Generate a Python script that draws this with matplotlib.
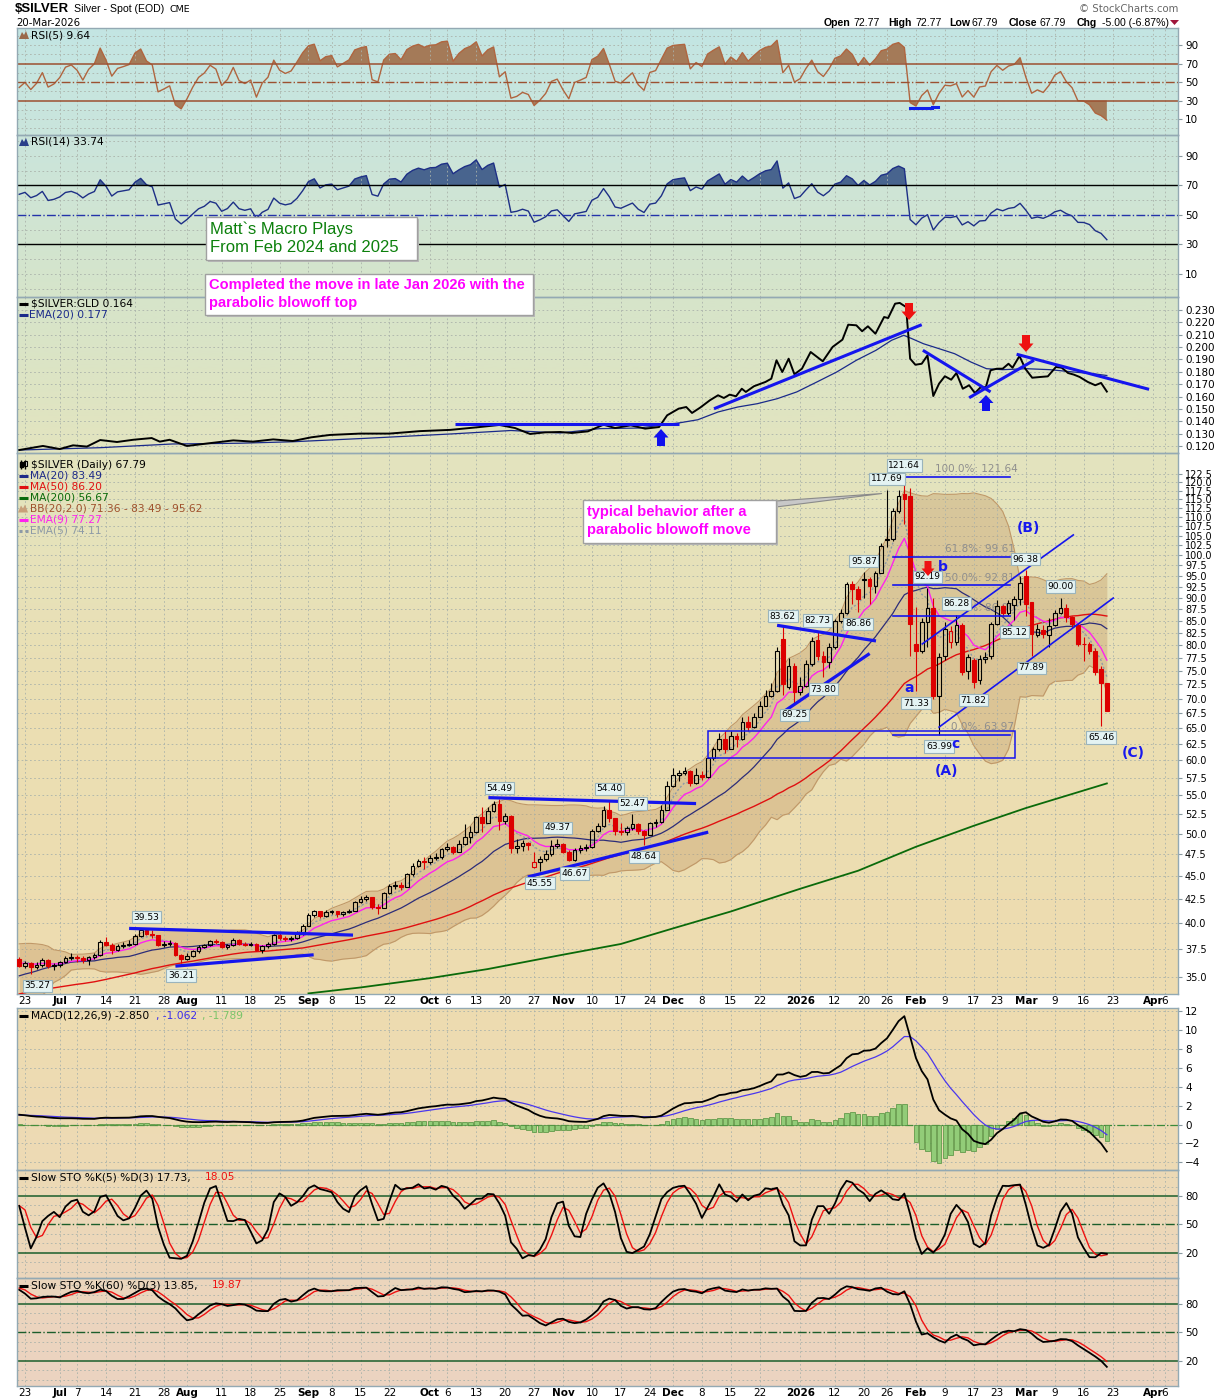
import numpy as np
import pandas as pd
import matplotlib
matplotlib.use("Agg")
import matplotlib.pyplot as plt
from matplotlib.colors import to_rgb
from matplotlib.patches import Polygon, Rectangle
from matplotlib.ticker import NullLocator

plt.rcParams['font.family'] = ['DejaVu Sans']

W, H = 1225, 1400
L, R = 17, 1178

# ---------------- data ----------------
holidays = ["2025-07-04", "2025-09-01", "2025-11-27", "2025-12-25",
            "2026-01-01", "2026-01-19", "2026-02-16", "2026-04-03"]
days = pd.bdate_range("2025-06-20", "2026-04-10")
days = days[~days.isin(pd.to_datetime(holidays))]

# closes before the visible window (Apr 8 - Jun 18 2025), only used to warm up the indicators
prior_closes = [29.7, 30.8, 30.7, 32.1,
                32.3, 32.3, 32.7, 32.4,
                32.5, 32.9, 33.5, 33.5, 33.1,
                33.0, 33.1, 32.6, 31.9, 32.0,
                32.3, 33.0, 32.6, 32.5, 32.7,
                32.6, 33.0, 32.5, 32.5, 32.3,
                32.3, 32.4, 33.4, 33.1, 33.4,
                33.1, 33.1, 33.3, 33.0,
                34.5, 34.4, 34.4, 35.8, 36.0,
                36.2, 36.6, 36.1, 36.3, 36.3,
                36.3, 37.0, 37.1]

# daily $SILVER, Jun 20 2025 .. Mar 20 2026
closes = [36.0,
          36.2, 35.9, 36.1, 36.5, 36.0,
          36.1, 36.3, 36.7, 36.8,
          36.7, 36.5, 36.8, 37.0, 38.2,
          37.9, 37.4, 37.8, 37.9, 38.0,
          38.8, 39.3, 39.0, 38.9, 37.9,
          38.0, 38.1, 37.0, 36.6, 36.9,
          37.3, 37.7, 37.9, 38.3, 38.2,
          37.7, 37.9, 38.4, 38.0, 37.9,
          38.0, 37.4, 37.8, 38.0, 38.9,
          38.6, 38.5, 38.6, 39.0, 39.7,
          40.8, 41.2, 40.7, 41.1,
          41.2, 40.9, 41.1, 41.3, 42.2,
          42.5, 42.7, 41.7, 41.6, 43.1,
          43.9, 44.0, 43.8, 45.2, 46.1,
          46.7, 46.6, 47.1, 47.2, 48.1,
          48.4, 47.8, 48.7, 49.6, 50.2,
          52.1, 51.4, 52.9, 53.9, 51.6,
          52.3, 48.3, 48.5, 48.9, 48.6,
          46.6, 47.0, 47.5, 48.5, 48.7,
          47.8, 46.8, 48.0, 48.2, 48.4,
          50.4, 51.0, 53.1, 52.0, 50.4,
          50.2, 50.7, 51.2, 50.3, 49.8,
          51.3, 51.5, 53.0, 56.3,
          57.8, 58.2, 58.5, 56.8, 57.9,
          57.6, 60.3, 61.7, 63.3, 61.8,
          63.7, 63.3, 66.0, 65.2, 66.8,
          68.8, 70.5, 71.3, 78.8,
          72.6, 76.0, 71.1, 72.3,
          76.3, 80.8, 77.9, 76.6, 79.5,
          85.0, 86.7, 93.1, 92.0, 89.7,
          94.2, 92.6, 95.8, 102.4,
          104.2, 111.7, 116.0, 115.0, 84.3,
          78.8, 84.6, 87.8, 70.5, 77.6,
          83.2, 82.8, 84.0, 74.7, 77.6,
          73.0, 77.2, 77.6, 84.3,
          88.2, 86.7, 88.9, 89.7, 93.4,
          88.6, 82.2, 83.2, 82.2, 83.9,
          86.7, 87.8, 85.7, 84.3, 80.2,
          80.1, 78.8, 74.7, 72.79, 67.79]

highs = [36.8,
         36.4, 36.3, 36.3, 36.7, 36.6,
         36.2, 36.4, 36.9, 37.2,
         37.0, 36.9, 36.9, 37.2, 38.4,
         38.7, 38.1, 38.0, 38.2, 38.4,
         39.0, 39.4, 39.53, 39.3, 38.9,
         38.3, 38.4, 38.2, 37.1, 37.2,
         37.4, 37.9, 38.0, 38.4, 38.5,
         38.3, 38.0, 38.6, 38.5, 38.2,
         38.2, 38.1, 37.9, 38.2, 39.0,
         39.1, 38.8, 38.8, 39.2, 39.9,
         41.0, 41.4, 41.3, 41.4,
         41.4, 41.3, 41.3, 41.5, 42.3,
         42.8, 42.9, 42.6, 42.0, 43.2,
         44.1, 44.5, 44.3, 45.3, 46.5,
         47.0, 47.2, 47.4, 47.6, 48.2,
         48.8, 48.5, 49.2, 51.2, 51.0,
         52.3, 53.5, 53.5, 54.2, 54.49,
         52.6, 52.4, 49.3, 49.2, 49.0,
         47.8, 47.3, 48.0, 49.2, 49.37,
         48.9, 48.0, 48.3, 48.6, 48.7,
         50.6, 51.3, 53.6, 54.40, 52.0,
         51.4, 51.0, 52.47, 51.3, 50.5,
         51.5, 51.9, 53.7, 57.0,
         58.9, 58.6, 59.0, 58.6, 58.9,
         58.4, 60.5, 62.0, 64.3, 64.5,
         64.6, 64.2, 66.8, 67.0, 67.6,
         69.5, 71.5, 72.7, 79.5,
         83.62, 77.5, 76.5, 73.8,
         77.0, 81.5, 82.73, 78.8, 80.3,
         85.4, 87.5, 93.6, 93.7, 92.6,
         95.87, 94.8, 96.2, 103.0,
         117.69, 112.5, 117.6, 121.64, 118.3,
         88.0, 85.6, 92.19, 90.0, 78.5,
         84.8, 83.8, 86.28, 84.5, 78.2,
         77.5, 78.0, 78.6, 84.8,
         89.5, 88.6, 89.4, 90.3, 95.0,
         96.38, 89.0, 84.3, 84.0, 85.6,
         87.2, 90.00, 88.6, 86.0, 84.5,
         81.5, 80.6, 79.3, 76.0, 72.77]

lows = [35.9,
        35.8, 35.27, 35.7, 35.9, 35.8,
        35.6, 35.9, 36.2, 36.5,
        36.3, 36.2, 36.1, 36.6, 36.9,
        37.8, 37.1, 37.3, 37.6, 37.8,
        37.9, 38.7, 38.9, 38.6, 37.8,
        37.7, 37.8, 36.9, 36.21, 36.5,
        36.8, 37.2, 37.6, 37.8, 38.0,
        37.6, 37.5, 37.8, 37.9, 37.8,
        37.8, 37.3, 37.2, 37.6, 37.9,
        38.4, 38.3, 38.3, 38.5, 38.9,
        39.7, 40.6, 40.5, 40.6,
        40.9, 40.6, 40.7, 41.0, 41.2,
        42.1, 42.3, 41.5, 40.9, 41.6,
        43.0, 43.6, 43.5, 43.8, 45.0,
        46.0, 45.8, 46.4, 46.8, 47.0,
        47.9, 47.5, 47.8, 48.6, 48.9,
        50.1, 50.2, 51.3, 52.8, 50.5,
        51.2, 47.6, 47.6, 47.9, 48.0,
        45.9, 45.55, 46.7, 47.3, 48.2,
        47.6, 46.7, 46.67, 47.6, 47.9,
        48.3, 50.2, 50.9, 51.5, 49.9,
        49.8, 49.9, 50.5, 50.0, 48.64,
        49.9, 50.9, 51.4, 53.3,
        56.2, 57.0, 57.8, 56.3, 56.6,
        57.2, 57.5, 60.0, 61.5, 61.2,
        61.9, 62.0, 63.2, 64.6, 65.0,
        66.8, 68.7, 70.2, 71.2,
        70.6, 71.6, 69.25, 70.6,
        72.0, 76.0, 77.1, 73.80, 75.5,
        79.2, 84.5, 86.3, 88.5, 86.86,
        89.9, 88.5, 91.0, 95.6,
        102.0, 103.5, 111.0, 108.0, 77.9,
        71.33, 78.4, 79.5, 70.0, 63.99,
        77.0, 79.3, 80.0, 74.2, 73.5,
        71.82, 72.5, 76.5, 77.2,
        84.0, 85.9, 86.2, 85.12, 88.4,
        86.0, 77.89, 81.6, 81.3, 79.5,
        83.8, 86.5, 84.8, 83.5, 79.8,
        76.8, 78.2, 74.3, 65.46, 67.79]

# days whose open differs from the previous close (position -> open)
open_gaps = {0: 36.6, 89: 46.0, 132: 81.2, 133: 72.0, 138: 81.0, 146: 94.0,
             150: 104.0, 153: 116.4, 154: 115.9, 155: 80.2, 160: 77.9, 161: 80.5,
             162: 80.6, 164: 74.9, 165: 77.1, 166: 73.4, 168: 77.8, 172: 88.4,
             174: 95.0, 175: 89.0, 176: 82.0, 177: 83.0, 178: 82.0, 179: 84.0,
             183: 84.0, 185: 80.2, 187: 75.4, 188: 72.77}

# $SILVER:GLD ratio and its EMA(20) (position, value)
ratio_x = [0, 4.1, 7.0, 9.3, 11.7, 14.0, 16.9, 19.7, 22.9, 24.3, 26.0, 29.0, 32.5, 37.0,
           40.4, 43.9, 47.3, 50.5, 53.7, 58.9, 64.0, 69.3, 74.5, 79.6, 83.0, 85.7, 88.3,
           90.9, 93.5, 95.5, 98.3, 101.0, 103.0, 105.7, 108.2, 110.6, 112.0, 114.0, 115.3,
           116.3, 117.7, 119.4, 120.8, 121.8, 122.8, 123.9, 124.9, 125.6, 127.0, 129.0,
           130.0, 130.9, 131.9, 133.0, 134.0, 135.3, 136.8, 138.9, 140.6, 142.3, 143.3,
           144.7, 145.7, 146.7, 148.0, 149.5, 150.2, 151.4, 152.2, 153.3, 154.0, 154.9,
           156.0, 157.0, 158.0, 159.0, 160.0, 161.1, 162.0, 163.1, 164.2, 165.2, 166.1,
           167.1, 167.9, 169.0, 170.0, 171.0, 171.7, 172.9, 173.9, 175.1, 176.5, 177.8,
           179.2, 180.2, 181.3, 182.3, 183.3, 184.7, 186.0, 187.0, 188.0]
ratio_v = [0.1167, 0.120, 0.1175, 0.1205, 0.1195, 0.1248, 0.1232, 0.125, 0.1264, 0.1235,
           0.125, 0.120, 0.122, 0.1245, 0.1235, 0.1253, 0.1240, 0.127, 0.1289, 0.130, 0.130,
           0.132, 0.133, 0.1353, 0.137, 0.1345, 0.1297, 0.131, 0.1313, 0.1305, 0.1318,
           0.1372, 0.1345, 0.1367, 0.1340, 0.1353, 0.1448, 0.1502, 0.1515, 0.1467, 0.151,
           0.157, 0.161, 0.1588, 0.1615, 0.1602, 0.1663, 0.1637, 0.1683, 0.1718, 0.1744,
           0.1893, 0.1798, 0.1906, 0.178, 0.1825, 0.196, 0.1885, 0.2001, 0.206, 0.2181,
           0.2176, 0.2128, 0.2168, 0.2108, 0.2243, 0.2235, 0.2351, 0.2357, 0.2324, 0.1906,
           0.1857, 0.1865, 0.1933, 0.1604, 0.1704, 0.1764, 0.1736, 0.179, 0.1663, 0.1691,
           0.1628, 0.1671, 0.1677, 0.1812, 0.1825, 0.1825, 0.1865, 0.1833, 0.1928, 0.1825,
           0.1752, 0.1758, 0.1763, 0.1839, 0.1833, 0.179, 0.1777, 0.1758, 0.1718, 0.1691,
           0.171, 0.164]
ratio_ema_x = [0, 14, 26.5, 38, 47.3, 60, 75, 85, 93.5, 100.3, 107.1, 114.0, 117.3, 120.8,
               124.2, 127.6, 131.0, 134.4, 137.9, 141.3, 144.7, 148.1, 150.8, 152.9, 154.3,
               156.3, 159.0, 161.7, 164.5, 167.2, 170.0, 174.1, 178.2, 182.3, 185.7, 188.0]
ratio_ema_v = [0.1167, 0.1186, 0.1216, 0.1222, 0.1234, 0.1262, 0.1298, 0.1325, 0.1305,
               0.134, 0.1345, 0.1386, 0.1412, 0.1475, 0.1515, 0.1542, 0.1582, 0.1637, 0.1718,
               0.1798, 0.1893, 0.1974, 0.2055, 0.2095, 0.2068, 0.2027, 0.1987, 0.1946, 0.1879,
               0.1825, 0.1817, 0.1825, 0.1817, 0.1798, 0.1784, 0.177]

# MA(200)
ma200_x = [50, 59, 71, 81, 94, 104, 113, 123, 135, 145, 155, 165, 174, 188]
ma200_v = [33.6, 34.1, 34.9, 35.7, 37.0, 38.0, 39.5, 41.2, 43.6, 45.6, 48.4, 51.0, 53.3, 56.67]

tick_dates = ["2025-06-23", "2025-07-01", "2025-07-07", "2025-07-14", "2025-07-21",
              "2025-07-28", "2025-08-01", "2025-08-11", "2025-08-18", "2025-08-25",
              "2025-09-02", "2025-09-08", "2025-09-15", "2025-09-22", "2025-10-01",
              "2025-10-06", "2025-10-13", "2025-10-20", "2025-10-27", "2025-11-03",
              "2025-11-10", "2025-11-17", "2025-11-24", "2025-12-01", "2025-12-08",
              "2025-12-15", "2025-12-22", "2026-01-02", "2026-01-12", "2026-01-20",
              "2026-01-26", "2026-02-02", "2026-02-09", "2026-02-17", "2026-02-23",
              "2026-03-02", "2026-03-09", "2026-03-16", "2026-03-23", "2026-04-01",
              "2026-04-06"]
tick_labels = ["23", "Jul", "7", "14", "21", "28", "Aug", "11", "18", "25", "Sep", "8",
               "15", "22", "Oct", "6", "13", "20", "27", "Nov", "10", "17", "24", "Dec",
               "8", "15", "22", "2026", "12", "20", "26", "Feb", "9", "17", "23", "Mar",
               "9", "16", "23", "Apr", "6"]

# labelled highs / lows
price_marks = [("2025-06-24", 35.27, "l"), ("2025-07-23", 39.53, "h"), ("2025-07-31", 36.21, "l"),
               ("2025-10-17", 54.49, "h"), ("2025-10-28", 45.55, "l"), ("2025-10-31", 49.37, "h"),
               ("2025-11-05", 46.67, "l"), ("2025-11-13", 54.40, "h"), ("2025-11-19", 52.47, "h"),
               ("2025-11-21", 48.64, "l"), ("2025-12-29", 83.62, "h"), ("2025-12-31", 69.25, "l"),
               ("2026-01-07", 82.73, "h"), ("2026-01-08", 73.80, "l"), ("2026-01-16", 86.86, "l"),
               ("2026-01-20", 95.87, "h"), ("2026-01-26", 117.69, "h"), ("2026-01-29", 121.64, "h"),
               ("2026-02-02", 71.33, "l"), ("2026-02-04", 92.19, "h"), ("2026-02-06", 63.99, "l"),
               ("2026-02-11", 86.28, "h"), ("2026-02-17", 71.82, "l"), ("2026-02-26", 85.12, "l"),
               ("2026-03-02", 96.38, "h"), ("2026-03-03", 77.89, "l"), ("2026-03-10", 90.00, "h"),
               ("2026-03-19", 65.46, "l")]

# analyst drawings (trading-day position, value)
price_trend = [(19.0, 39.5, 57.7, 38.85), (27.0, 35.96, 50.9, 36.99), (81.1, 54.7, 117.0, 53.9),
               (87.9, 44.9, 119.1, 50.2), (131.0, 84.0, 148.1, 80.8), (132.2, 67.8, 147.0, 78.3)]
price_channel = [(156.1, 80.2, 182.2, 105.2), (159.0, 65.2, 189.1, 89.9)]
fib_levels = [121.64, 99.61, 92.81, 86.00, 63.97]
fib_text = ["100.0%: 121.64", "61.8%: 99.61", "50.0%: 92.81", "38.2%: 86.00", "0.0%: 63.97"]
ratio_trend = [(75.3, 0.1380, 114.0, 0.1380), (120.1, 0.1501, 156.0, 0.2181),
               (156.2, 0.1974, 167.9, 0.1637), (164.2, 0.1590, 175.4, 0.1893),
               (172.4, 0.1942, 195.3, 0.1658)]

# ---------------- indicators ----------------
n0 = len(prior_closes)
cl = pd.Series(prior_closes + closes, dtype=float)
hi_all = pd.Series(prior_closes + highs, dtype=float)
lo_all = pd.Series(prior_closes + lows, dtype=float)


def rsi(s, n):
    d = s.diff()
    up = d.clip(lower=0).ewm(alpha=1 / n, adjust=False).mean()
    dn = (-d.clip(upper=0)).ewm(alpha=1 / n, adjust=False).mean()
    return 100 - 100 / (1 + up / dn)


def slow_sto(k):
    ll = lo_all.rolling(k, min_periods=1).min()
    hh = hi_all.rolling(k, min_periods=1).max()
    fast = 100 * (cl - ll) / (hh - ll)
    sk = fast.rolling(3, min_periods=1).mean()
    return sk, sk.rolling(3, min_periods=1).mean()


ma20 = cl.rolling(20).mean()
ma50 = cl.rolling(50, min_periods=1).mean()
sd20 = cl.rolling(20).std(ddof=0)
ema9 = cl.ewm(span=9, adjust=False).mean()
ema5 = cl.ewm(span=5, adjust=False).mean()
macd = cl.ewm(span=12, adjust=False).mean() - cl.ewm(span=26, adjust=False).mean()
sig = macd.ewm(span=9, adjust=False).mean()
rsi5, rsi14 = rsi(cl, 5), rsi(cl, 14)
k5, d5 = slow_sto(5)
k60, d60 = slow_sto(60)


def vis(s):
    return s.values[n0:]


x = np.arange(len(closes))
c = np.array(closes)
hi = np.array(highs)
lo = np.array(lows)
prev = np.r_[prior_closes[-1], c[:-1]]
o = prev.copy()
for k, v in open_gaps.items():
    o[k] = v

tick_pos = days.get_indexer(pd.to_datetime(tick_dates))

# ---------------- figure ----------------
fig = plt.figure(figsize=(W / 100, H / 100), dpi=100)
fig.patch.set_facecolor("white")

grad_y = [28, 135, 297, 453, 700, 994, 1170, 1278, 1386]
grad_c = ["#c3e5e3", "#cae5dc", "#d6e4ca", "#e3e4bf", "#ebdfb3", "#eedcb0",
          "#eddab5", "#ecd6bc", "#ebd3c1"]
grad_rgb = np.array([to_rgb(cc) for cc in grad_c])


def panel(top, bottom):
    rect = [L / W, 1 - bottom / H, (R - L) / W, (bottom - top) / H]
    bg = fig.add_axes(rect, zorder=0)
    rows = np.linspace(top, bottom, 64)
    img = np.stack([np.interp(rows, grad_y, grad_rgb[:, j]) for j in range(3)], axis=-1)
    bg.imshow(img[:, None, :], aspect="auto", extent=(0, 1, 0, 1), interpolation="bilinear")
    bg.axis("off")
    ax = fig.add_axes(rect, zorder=1)
    ax.patch.set_alpha(0)
    ax.set_xlim(-0.38, 200.3)
    for sp in ax.spines.values():
        sp.set_color("#93a9b3")
        sp.set_linewidth(1.0)
    ax.yaxis.tick_right()
    ax.tick_params(axis="y", labelsize=7.5, length=3, pad=2, color="#8899a0")
    ax.set_xticks(tick_pos)
    ax.tick_params(axis="x", length=0, labelbottom=False)
    ax.grid(axis="x", color="#aab2aa", linestyle=(0, (2, 3)), linewidth=0.6)
    return ax


def hgrid(ax, levels):
    for lv in levels:
        ax.axhline(lv, color="#aab2aa", linestyle=(0, (2, 3)), linewidth=0.6, zorder=0.5)


# RSI(5)
a1 = panel(28, 135)
a1.set_ylim(-7.3, 108.4)
a1.set_yticks([10, 30, 50, 70, 90])
hgrid(a1, [0, 10, 20, 40, 60, 80, 90, 100])
r5 = vis(rsi5)
a1.fill_between(x, r5, 70, where=r5 > 70, interpolate=True, color="#a47a58", lw=0)
a1.fill_between(x, r5, 30, where=r5 < 30, interpolate=True, color="#a47a58", lw=0)
a1.plot(x, r5, color="#b0653f", lw=1.0)
a1.axhline(70, color="#9c5030", lw=1.1)
a1.axhline(30, color="#9c5030", lw=1.1)
a1.axhline(50, color="#9c5030", lw=1.0, linestyle="-.")
a1.plot([153.96, 157.7], [22.2, 22.2], color="#1020ee", lw=2.2)
a1.plot([157.8, 158.8], [23.3, 23.3], color="#1020ee", lw=2.2)

# RSI(14)
a2 = panel(135, 297)
a2.set_ylim(-5.6, 104.2)
a2.set_yticks([10, 30, 50, 70, 90])
hgrid(a2, [0, 10, 20, 40, 60, 80, 90, 100])
r14 = vis(rsi14)
a2.fill_between(x, r14, 70, where=r14 > 70, interpolate=True, color="#48648e", lw=0)
a2.fill_between(x, r14, 30, where=r14 < 30, interpolate=True, color="#48648e", lw=0)
a2.plot(x, r14, color="#1d2f86", lw=1.0)
a2.axhline(70, color="black", lw=1.0)
a2.axhline(30, color="black", lw=1.0)
a2.axhline(50, color="#2433aa", lw=1.0, linestyle="-.")

# ratio
a3 = panel(297, 453)
a3.set_ylim(0.1143, 0.2405)
rt = np.arange(0.12, 0.2301, 0.01)
a3.set_yticks(rt)
a3.set_yticklabels([f"{t:.3f}" for t in rt])
hgrid(a3, rt)
a3.plot(ratio_ema_x, ratio_ema_v, color="#1a2a8a", lw=0.9)
a3.plot(ratio_x, ratio_v, color="black", lw=1.4)
for x0, y0, x1, y1 in ratio_trend:
    a3.plot([x0, x1], [y0, y1], color="#1515ee", lw=2.2, solid_capstyle="butt")

# price
ap = panel(453, 994)
ap.set_yscale("log")
ap.set_ylim(33.55, 129.0)
pt = np.arange(35, 123, 2.5)
ap.set_yticks(pt)
ap.set_yticklabels([f"{t:.1f}" for t in pt])
ap.yaxis.set_minor_locator(NullLocator())
ap.tick_params(axis="y", labelsize=7)
hgrid(ap, pt)
ap.tick_params(axis="x", labelbottom=True, labelsize=7.5, pad=1.5)
ap.set_xticklabels(tick_labels)
for t in ap.get_xticklabels():
    if not t.get_text().isdigit() or t.get_text() == "2026":
        t.set_fontweight("bold")

bb_u = vis(ma20 + 2 * sd20)
bb_l = vis(ma20 - 2 * sd20)
ap.fill_between(x, bb_l, bb_u, color="#c39a66", alpha=0.38, lw=0, zorder=1)
ap.plot(x, bb_u, color="#c09868", lw=0.8, zorder=1.1)
ap.plot(x, bb_l, color="#c09868", lw=0.8, zorder=1.1)
ap.plot(ma200_x, ma200_v, color="#0a6a0a", lw=1.3, zorder=3)
ap.plot(x, vis(ma50), color="#e01010", lw=1.0, zorder=3)
ap.plot(x, vis(ma20), color="#2c2c78", lw=0.9, zorder=3)
ap.plot(x, vis(ema5), color="#8d9aa6", lw=1.0, linestyle=(0, (1.5, 1.5)), zorder=3)
ap.plot(x, vis(ema9), color="#ff22ee", lw=1.0, zorder=3)

col = np.where(c >= prev, "black", "#dd0000")
top_b = np.maximum(o, c)
bot_b = np.minimum(o, c)
ap.vlines(x, top_b, np.maximum(hi, top_b), colors=col, lw=0.8, zorder=4)
ap.vlines(x, np.minimum(lo, bot_b), bot_b, colors=col, lw=0.8, zorder=4)
body = np.maximum(top_b - bot_b, bot_b * 0.002)
face = [cc if cv < ov_ else "none" for cc, cv, ov_ in zip(col, c, o)]
ap.bar(x, body, bottom=bot_b, width=0.64, color=face, edgecolor=col, linewidth=0.8, zorder=5)

for x0, y0, x1, y1 in price_trend:
    ap.plot([x0, x1], [y0, y1], color="#1515ee", lw=2.3, zorder=6, solid_capstyle="butt")
for x0, y0, x1, y1 in price_channel:
    ap.plot([x0, x1], [y0, y1], color="#1515ee", lw=1.2, zorder=6)
ap.add_patch(Rectangle((119.0, 60.3), 172.1 - 119.0, 64.5 - 60.3, fill=False,
                       ec="#1515ee", lw=1.1, zorder=6))
for k, (lv, tx) in enumerate(zip(fib_levels, fib_text)):
    xs = 153.1 if k == 0 else 151.0
    ap.plot([xs, 171.2], [lv, lv], color="#1515ee", lw=1.2, zorder=6)
    tx_x = {0: 158.3, 4: 161.0}.get(k, 160.0)
    ap.text(tx_x, lv * 1.006, tx, fontsize=7.5, color="#8e8e8e", va="bottom", ha="left", zorder=4.5)

for d, v, kind in price_marks:
    k = days.get_loc(pd.Timestamp(d))
    dx = 7 if v == 35.27 else 0
    dy = 11 if kind == "h" else -12
    ap.annotate(f"{v:.2f}", xy=(k, v), xytext=(dx, dy), textcoords="offset pixels",
                ha="center", va="center", fontsize=6.6, color="black", zorder=8,
                bbox=dict(boxstyle="square,pad=0.18", fc="#e4f3f3", ec="#9ab4bc", lw=0.8))

# MACD
am = panel(1008, 1170)
am.set_ylim(-4.81, 12.32)
am.set_yticks(np.arange(-4, 13, 2))
hgrid(am, np.arange(-4, 13, 2))
hist = vis(macd - sig)
am.bar(x, hist, width=0.8, color="#92cc78", edgecolor="#4f8f3c", linewidth=0.5, zorder=2)
am.axhline(0, color="#3a8a3a", lw=0.9, linestyle="-.", zorder=1)
am.plot(x, vis(sig), color="#4a36ee", lw=0.9, zorder=3)
am.plot(x, vis(macd), color="black", lw=1.3, zorder=4)

# Slow STO 5 and 60
for top, bottom, kk, dd in [(1170, 1278, k5, d5), (1278, 1386, k60, d60)]:
    a_s = panel(top, bottom)
    a_s.set_ylim(-6.8, 107.5)
    a_s.set_yticks([20, 50, 80])
    hgrid(a_s, [0, 10, 30, 40, 60, 70, 90, 100])
    a_s.axhline(80, color="#1b5e2b", lw=1.1)
    a_s.axhline(20, color="#1b5e2b", lw=1.1)
    a_s.axhline(50, color="#1b5e2b", lw=1.0, linestyle="-.")
    a_s.plot(x, vis(dd), color="#ee1111", lw=1.0)
    a_s.plot(x, vis(kk), color="black", lw=1.3)
    last_sto = a_s
last_sto.tick_params(axis="x", labelbottom=True, labelsize=7.5, pad=1.5)
last_sto.set_xticklabels(tick_labels)
for t in last_sto.get_xticklabels():
    if not t.get_text().isdigit() or t.get_text() == "2026":
        t.set_fontweight("bold")

# ---------------- overlay: header, legends, notes ----------------
ov = fig.add_axes([0, 0, 1, 1], zorder=10)
ov.set_xlim(0, W)
ov.set_ylim(H, 0)
ov.axis("off")
ov.patch.set_alpha(0)

ov.text(15, 9, "$SILVER", fontsize=9.5, fontweight="bold", va="center", family="Liberation Sans")
ov.text(74, 9.5, "Silver - Spot (EOD)", fontsize=7.6, va="center", family="Liberation Sans")
ov.text(170, 9.5, "CME", fontsize=6.8, va="center")
ov.text(16, 22.5, "20-Mar-2026", fontsize=7.3, va="center")
ov.text(1178, 8.5, "\u00a9 StockCharts.com", fontsize=7.3, va="center", ha="right", color="#666666")
hdr = [(824, "Open", True), (853, "72.77", False), (888, "High", True), (915, "72.77", False),
       (949, "Low", True), (972, "67.79", False), (1009, "Close", True), (1040, "67.79", False),
       (1077, "Chg", True), (1102, "-5.00 (-6.87%)", False)]
for hx, ht, hb in hdr:
    ov.text(hx, 22.5, ht, fontsize=7.6, va="center", fontweight="bold" if hb else "normal",
            family="Liberation Sans")
ov.add_patch(Polygon([(1170, 20), (1179, 20), (1174.5, 25)], closed=True, fc="#a0163c", ec="none"))


def mountain(x0, y0, color):
    ov.add_patch(Polygon([(x0, y0 + 4), (x0 + 3, y0 - 3), (x0 + 5, y0), (x0 + 7, y0 - 4),
                          (x0 + 10, y0 + 4)], closed=True, fc=color, ec="none"))


def swatch(y0, color, ls="-"):
    ov.plot([19, 28], [y0, y0], color=color, lw=2.2, linestyle=ls, solid_capstyle="butt")


mountain(19, 35, "#9a6a4a")
ov.text(31, 35, "RSI(5) 9.64", fontsize=7.7, va="center")
mountain(19, 142, "#2a3f8a")
ov.text(31, 142, "RSI(14) 33.74", fontsize=7.7, va="center")
swatch(303.5, "black")
ov.text(31, 303.5, "$SILVER:GLD 0.164", fontsize=7.7, va="center")
swatch(314.5, "#1a2a8a")
ov.text(29, 314.5, "EMA(20) 0.177", fontsize=7.7, va="center", color="#1a2a8a")

ov.vlines([21, 25], 460, 469, color="black", lw=1)
ov.add_patch(Rectangle((19.5, 462), 3, 5, fc="black", ec="black"))
ov.add_patch(Rectangle((23.5, 461), 3, 5, fc="white", ec="black", lw=0.8))
ov.text(31, 464.5, "$SILVER (Daily) 67.79", fontsize=7.7, va="center")
legend_rows = [(475.5, "MA(20) 83.49", "#1d2a88"), (486.5, "MA(50) 86.20", "#e01010"),
               (497.5, "MA(200) 56.67", "#0a6a0a"), (508.5, "BB(20,2.0) 71.36 - 83.49 - 95.62", "#a0522d"),
               (519.5, "EMA(9) 77.27", "#ff22ee"), (530.5, "EMA(5) 74.11", "#8d9aa6")]
for ly, lt, lc in legend_rows:
    if lt.startswith("BB"):
        mountain(18, ly, "#c8a07a")
    elif lt.startswith("EMA(5)"):
        swatch(ly, lc, ls=(0, (1, 1)))
    else:
        swatch(ly, lc)
    ov.text(29.5, ly, lt, fontsize=7.7, va="center", color=lc)

swatch(1015.5, "black")
ov.text(31, 1015.5, "MACD(12,26,9) -2.850", fontsize=7.7, va="center")
ov.text(156, 1015.5, ", -1.062", fontsize=7.7, va="center", color="#3a2cee")
ov.text(201.5, 1015.5, ", -1.789", fontsize=7.7, va="center", color="#7cc46a")
swatch(1177.5, "black")
ov.text(31, 1177.5, "Slow STO %K(5) %D(3) 17.73,", fontsize=7.7, va="center")
ov.text(205, 1177.5, "18.05", fontsize=7.7, va="center", color="#ee1111")
swatch(1285.5, "black")
ov.text(31, 1285.5, "Slow STO %K(60) %D(3) 13.85,", fontsize=7.7, va="center")
ov.text(212, 1285.5, "19.87", fontsize=7.7, va="center", color="#ee1111")


def note(x0, y0, w, h, lines, color, size, bold, dy):
    ov.add_patch(Rectangle((x0 + 2, y0 + 2), w, h, fc="#b8b8b8", ec="none"))
    ov.add_patch(Rectangle((x0, y0), w, h, fc="white", ec="#a0a0a0", lw=1))
    for k, ln in enumerate(lines):
        ov.text(x0 + 4, y0 + dy[k], ln, color=color, fontsize=size, va="center",
                fontweight="bold" if bold else "normal", family="Liberation Sans")


note(206, 217, 211, 43, ["Matt`s Macro Plays", "From Feb 2024 and 2025"], "#0c800c", 12, False, [12, 31])
note(205, 274, 328, 41, ["Completed the move in late Jan 2026 with the", "parabolic blowoff top"],
     "#ff00ff", 10.5, True, [11, 29])
ov.add_patch(Polygon([(776, 501), (882, 493.5), (776, 507)], closed=True, fc="#c8c8c8",
                     ec="#8a8a8a", lw=0.8))
note(583, 500, 193, 43, ["typical behavior after a", "parabolic blowoff move"],
     "#ff00ff", 10.5, True, [12, 30])


def block_arrow(x0, tip, tail, color, hw=7.5, sw=4.0):
    d = 1 if tail > tip else -1
    neck = tip + d * abs(tail - tip) * 0.5
    ov.add_patch(Polygon([(x0, tip), (x0 + hw, neck), (x0 + sw, neck), (x0 + sw, tail),
                          (x0 - sw, tail), (x0 - sw, neck), (x0 - hw, neck)],
                         closed=True, fc=color, ec="none"))


block_arrow(661, 429, 446, "#1010ee")
block_arrow(909, 320, 303, "#ee1111")
block_arrow(986, 395, 411, "#1010ee")
block_arrow(1026, 352, 335, "#ee1111")
block_arrow(928, 576, 561, "#ee1111", hw=6.5, sw=3.5)

for tx, ty, tt in [(1028, 528, "(B)"), (943, 567, "b"), (909, 688, "a"), (956, 744, "c"),
                   (947, 771, "(A)"), (1133, 753, "(C)")]:
    ov.text(tx, ty, tt, color="#1818ee", fontsize=10, fontweight="bold", ha="center", va="center")

fig.savefig("out.png", dpi=100)
